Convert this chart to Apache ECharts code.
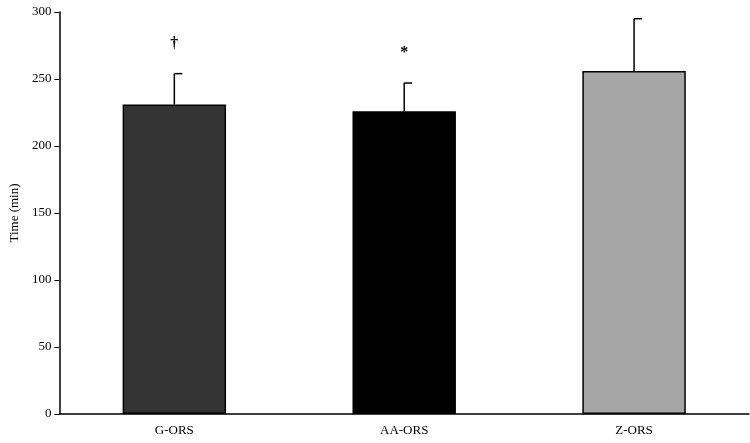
<!DOCTYPE html><html><head><meta charset="utf-8">
<script src="https://cdn.jsdelivr.net/npm/echarts@6/dist/echarts.min.js"></script>
<style>html,body{margin:0;padding:0;background:#fff}#c{width:750px;height:443px}</style></head><body><div id="c"></div>
<script>
const categories=['G-ORS','AA-ORS','Z-ORS'];
const means=[231,226,256];
const errTops=[254,247,295];
const marks=['†','*',''];
const colors=['#333333','#000000','#a6a6a6'];
const yTicks=[0,50,100,150,200,250,300];
const font='Liberation Serif';
const chart=echarts.init(document.getElementById('c'));
chart.setOption({
 animation:false,
 grid:{left:53,right:1,top:12,bottom:29},
 xAxis:{type:'category',data:categories,axisTick:{show:false},
  axisLine:{lineStyle:{color:'#000',width:1.5}},
  axisLabel:{color:'#000',fontFamily:font,fontSize:13,margin:10}},
 yAxis:{type:'value',min:0,max:300,interval:50,name:'Time (min)',nameLocation:'middle',nameGap:38,
  nameTextStyle:{color:'#000',fontFamily:font,fontSize:13},
  axisLine:{show:true,lineStyle:{color:'#000',width:1.5}},axisTick:{show:true,inside:false,length:5,lineStyle:{color:'#000'}},
  splitLine:{show:false},axisLabel:{color:'#000',fontFamily:font,fontSize:13,margin:8}},
 series:[
  {type:'bar',barWidth:'45%',data:means.map((v,i)=>({value:v,itemStyle:{color:colors[i],borderColor:'#000',borderWidth:1.5}})),z:2},
  {type:'custom',z:3,data:categories.map((c,i)=>[i,means[i],errTops[i]]),
   renderItem:function(p,api){
    const b=api.coord([api.value(0),api.value(1)]);
    const t=api.coord([api.value(0),api.value(2)]);
    const x=b[0];const cw=8;
    const ch=[{type:'line',shape:{x1:x,y1:b[1],x2:x,y2:t[1]},style:{stroke:'#000',lineWidth:1.5}},
     {type:'line',shape:{x1:x,y1:t[1],x2:x+cw,y2:t[1]},style:{stroke:'#000',lineWidth:1.5}}];
    const m=marks[p.dataIndex];
    if(m) ch.push({type:'text',style:{text:m,x:x,y:t[1]-30,textAlign:'center',textVerticalAlign:'middle',font:'bold 16px '+font,fill:'#000'}});
    return {type:'group',children:ch};
   }}
 ]
});
</script></body></html>
